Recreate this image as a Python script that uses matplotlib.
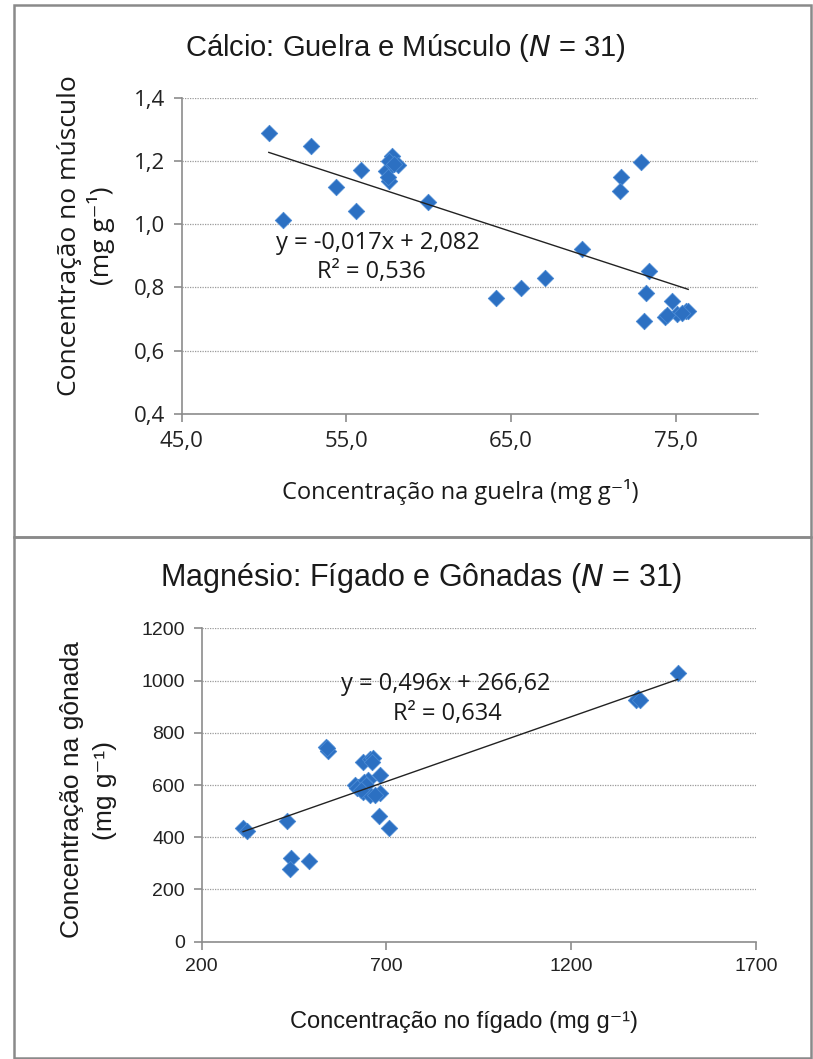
import matplotlib
matplotlib.use("Agg")
import matplotlib.pyplot as plt
from matplotlib.patches import Rectangle
import numpy as np

# ---- Data: Cálcio (guelra x músculo) ----
ca_guelra = [50.29, 52.88, 51.16, 54.39, 55.87, 55.61, 57.76, 57.42, 58.15, 57.58,
             59.95, 64.09, 65.58, 67.08, 69.34, 71.67, 71.61, 72.92, 73.38, 73.22,
             73.06, 74.76, 74.35, 75.08, 75.60, 75.76, 57.60, 57.90, 75.40, 74.50, 57.50]
ca_musculo = [1.289, 1.248, 1.013, 1.119, 1.171, 1.043, 1.216, 1.168, 1.186, 1.138,
              1.069, 0.766, 0.798, 0.830, 0.921, 1.148, 1.106, 1.196, 0.852, 0.781,
              0.693, 0.757, 0.708, 0.716, 0.727, 0.725, 1.200, 1.190, 0.720, 0.712, 1.150]

# ---- Data: Magnésio (fígado x gônadas) ----
mg_figado = [312, 322, 430, 441, 439, 490, 536, 543, 637, 655, 664, 614, 623, 637,
             650, 682, 655, 682, 679, 707, 1488, 1380, 1374, 640, 660, 620, 645, 670,
             1385, 630, 540]
mg_gonada = [437, 424, 463, 320, 280, 310, 747, 732, 687, 699, 703, 600, 594, 575,
             620, 639, 562, 571, 482, 434, 1030, 933, 926, 610, 690, 590, 600, 560,
             925, 580, 740]

ca_slope, ca_intercept, ca_r2 = -0.017, 2.082, 0.536
mg_slope, mg_intercept, mg_r2 = 0.496, 266.62, 0.634

ca_xticks = [45, 55, 65, 75]
ca_yticks = [0.4, 0.6, 0.8, 1.0, 1.2, 1.4]
mg_xticks = [200, 700, 1200, 1700]
mg_yticks = [0, 200, 400, 600, 800, 1000, 1200]

W, H = 813, 1059
fig = plt.figure(figsize=(W / 100, H / 100), dpi=100)
fig.patch.set_facecolor("white")

CAL = ["Open Sans", "DejaVu Sans"]
ARI = ["Liberation Sans", "DejaVu Sans"]
MARK = "#2c70c2"
AXC = "#8c8c8c"
TXT = "#1a1a1a"
SUP = "\u207b\u00b9"  # superscript -1


def px_axes(left, top, right, bottom):
    return fig.add_axes([left / W, 1 - bottom / H, (right - left) / W, (bottom - top) / H])


def fx(x):
    return x / W


def fy(y):
    return 1 - y / H


def style(ax, tickfam, size):
    for s in ["top", "right"]:
        ax.spines[s].set_visible(False)
    for s in ["left", "bottom"]:
        ax.spines[s].set_color(AXC)
        ax.spines[s].set_linewidth(1.2)
    ax.tick_params(axis="both", direction="out", color=AXC, length=6, width=1.2,
                   labelsize=size, labelcolor="#222222", pad=6)
    ax.yaxis.grid(True, linestyle=(0, (1, 1)), color="#9a9a9a", linewidth=0.9)
    ax.set_axisbelow(True)
    for lab in ax.get_xticklabels() + ax.get_yticklabels():
        lab.set_family(tickfam)


# Panel borders
for (t, b) in [(5, 537), (537, 1058)]:
    fig.patches.append(Rectangle((fx(14), fy(b)), fx(811) - fx(14), fy(t) - fy(b),
                                 transform=fig.transFigure, fill=False,
                                 edgecolor="#8a8a8a", linewidth=1.8))

# ---- Top chart ----
ax1 = px_axes(181.7, 97.7, 758, 414)
ax1.set_xlim(45, 80)
ax1.set_ylim(0.4, 1.4)
ax1.set_xticks(ca_xticks)
ax1.set_xticklabels([f"{v:.1f}".replace(".", ",") for v in ca_xticks])
ax1.set_yticks(ca_yticks)
ax1.set_yticklabels([f"{v:.1f}".replace(".", ",") for v in ca_yticks])
style(ax1, CAL, 16)
ax1.scatter(ca_guelra, ca_musculo, marker="D", s=70, color=MARK, edgecolors="#4a8ad4",
            linewidths=0.6, zorder=3)
xs = np.array([min(ca_guelra), max(ca_guelra)])
ax1.plot(xs, ca_slope * xs + ca_intercept, color="#222222", linewidth=1.0, zorder=4)
ax1.text(56.9, 0.94, "y = -0,017x + 2,082", ha="center", va="center",
         fontsize=17, family=CAL, color=TXT)
ax1.text(56.5, 0.849, "R\u00b2 = 0,536", ha="center", va="center",
         fontsize=17, family=CAL, color=TXT)

fig.text(fx(405), fy(48), "Cálcio: Guelra e Músculo ($\\mathit{N}$ = 31)", ha="center",
         va="center", fontsize=21, family=ARI, color=TXT)
fig.text(fx(460), fy(492), "Concentração na guelra (mg g" + SUP + ")", ha="center",
         va="center", fontsize=17, family=CAL, color=TXT)
fig.text(fx(69), fy(236), "Concentração no músculo", ha="center", va="center",
         rotation=90, fontsize=19, family=CAL, color=TXT)
fig.text(fx(101), fy(236), "(mg g" + SUP + ")", ha="center", va="center",
         rotation=90, fontsize=19, family=CAL, color=TXT)

# ---- Bottom chart ----
ax2 = px_axes(201.7, 628.4, 756, 941.7)
ax2.set_xlim(200, 1700)
ax2.set_ylim(0, 1200)
ax2.set_xticks(mg_xticks)
ax2.set_yticks(mg_yticks)
style(ax2, ARI, 14)
ax2.scatter(mg_figado, mg_gonada, marker="D", s=70, color=MARK, edgecolors="#4a8ad4",
            linewidths=0.6, zorder=3)
xs2 = np.array([min(mg_figado), max(mg_figado)])
ax2.plot(xs2, mg_slope * xs2 + mg_intercept, color="#222222", linewidth=1.0, zorder=4)
ax2.text(860, 987, "y = 0,496x + 266,62", ha="center", va="center",
         fontsize=17, family=CAL, color=TXT)
ax2.text(866, 872, "R\u00b2 = 0,634", ha="center", va="center",
         fontsize=17, family=CAL, color=TXT)

fig.text(fx(421), fy(578), "Magnésio: Fígado e Gônadas ($\\mathit{N}$ = 31)", ha="center",
         va="center", fontsize=22, family=ARI, color=TXT)
fig.text(fx(464), fy(1022), "Concentração no fígado (mg g" + SUP + ")", ha="center",
         va="center", fontsize=17, family=ARI, color=TXT)
fig.text(fx(72), fy(790), "Concentração na gônada", ha="center", va="center",
         rotation=90, fontsize=19, family=ARI, color=TXT)
fig.text(fx(105), fy(790), "(mg g" + SUP + ")", ha="center", va="center",
         rotation=90, fontsize=19, family=ARI, color=TXT)

fig.savefig("out.png", dpi=100, facecolor="white")
